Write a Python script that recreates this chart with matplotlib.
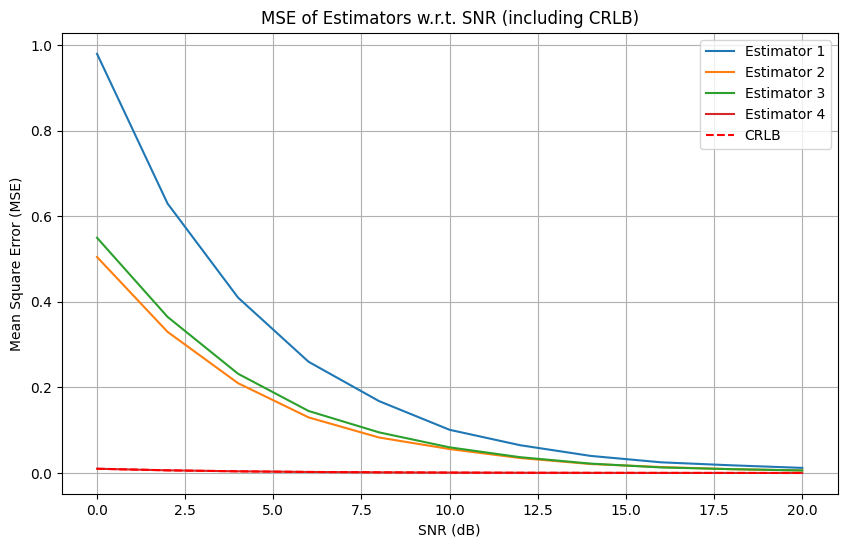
import matplotlib
matplotlib.use("Agg")
import matplotlib.pyplot as plt

snr = [0, 2, 4, 6, 8, 10, 12, 14, 16, 18, 20]
est1 = [0.98, 0.63, 0.41, 0.26, 0.168, 0.101, 0.065, 0.040, 0.025, 0.018, 0.012]
est2 = [0.505, 0.33, 0.21, 0.13, 0.083, 0.056, 0.035, 0.021, 0.014, 0.009, 0.006]
est3 = [0.55, 0.365, 0.232, 0.145, 0.095, 0.060, 0.037, 0.022, 0.013, 0.009, 0.006]
est4 = [0.0100, 0.0063, 0.0040, 0.0025, 0.0016, 0.0010, 0.0006, 0.0004, 0.0003, 0.0002, 0.0001]
crlb = [0.0100, 0.0063, 0.0040, 0.0025, 0.0016, 0.0010, 0.0006, 0.0004, 0.0003, 0.0002, 0.0001]

fig = plt.figure(figsize=(8.46, 5.47), dpi=100)
ax = fig.add_axes([0.073, 0.097, 0.917, 0.843])
ax.plot(snr, est1, label="Estimator 1")
ax.plot(snr, est2, label="Estimator 2")
ax.plot(snr, est3, label="Estimator 3")
ax.plot(snr, est4, label="Estimator 4", color="tab:red")
ax.plot(snr, crlb, "r--", label="CRLB")
ax.set_xlabel("SNR (dB)")
ax.set_ylabel("Mean Square Error (MSE)")
ax.set_title("MSE of Estimators w.r.t. SNR (including CRLB)")
ax.legend(loc="upper right")
ax.grid(True)
fig.savefig("out.png")
